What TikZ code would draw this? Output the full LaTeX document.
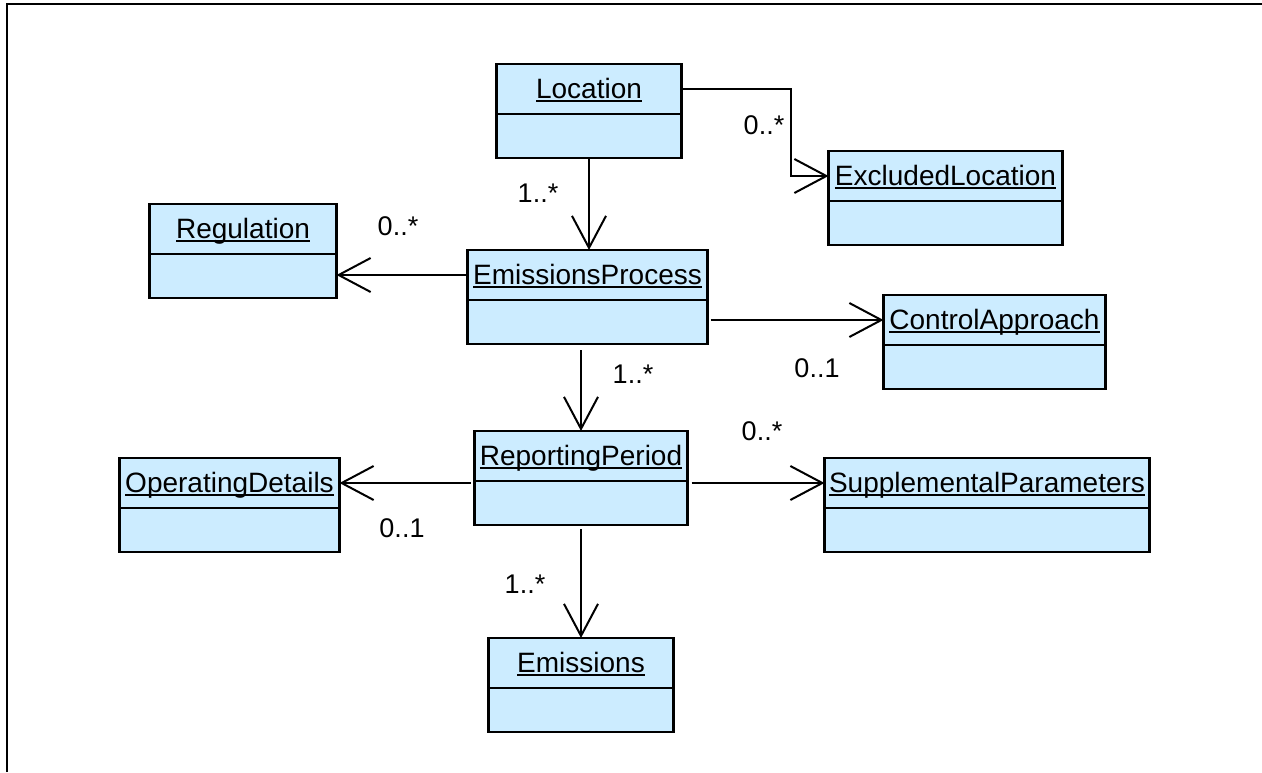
\documentclass[tikz,border=0pt]{standalone}
\usepackage{fontspec}
\setmainfont{Liberation Sans}
\usetikzlibrary{arrows.meta,positioning}

\definecolor{classfill}{RGB}{204,236,255}
\newlength{\unamewd}
\newcommand{\uname}[1]{\settowidth{\unamewd}{#1}\rlap{\rule[-3.5pt]{\unamewd}{2pt}}#1}

\tikzset{
  classhead/.style={draw,line width=2.6pt,fill=classfill,outer sep=0pt,inner sep=0pt,
    minimum height=50pt,text height=20pt,text depth=2pt,font=\fontsize{28}{34}\selectfont},
  classbody/.style={draw,line width=2.6pt,fill=classfill,outer sep=0pt,inner sep=0pt,minimum height=44pt},
  assoc/.style={line width=1.3pt,-{Straight Barb[length=32pt,width=34pt,line width=2pt]}},
  mult/.style={anchor=base,inner sep=0pt,font=\fontsize{27}{32}\selectfont},
}

\begin{document}
\begin{tikzpicture}[x=1pt,y=-1pt]
\useasboundingbox (0,0) rectangle (1262,772);
% Frame
\draw[line width=2pt] (7,772) -- (7,4) -- (1262,4);

% Classes: name/x/y/width/title
\foreach \n/\x/\y/\w/\t in {loc/589/89/185/Location,
    exc/945.5/176/234/ExcludedLocation,
    reg/243/229/187/Regulation,
    ep/587.5/275/240/EmissionsProcess,
    ca/994.5/320/222/ControlApproach,
    rp/581/456/213/ReportingPeriod,
    od/229.5/483/220/OperatingDetails,
    sp/987/483/325/SupplementalParameters,
    em/581/663/185/Emissions}{
  \node[classhead,minimum width=\w] (\n) at (\x,\y) {\uname{\t}};
  \node[classbody,minimum width=\w,below=0pt of \n] (\n-b) {};
}

% Associations
\coordinate (locbend) at (791,89);
\draw[assoc] (loc-b.south) -- (loc-b.south |- ep.north);
\draw[assoc] (loc.east) -- (locbend) |- (exc.west);
\draw[assoc] (ep.west) -- (ep.west -| reg-b.east);
\draw[assoc,shorten <=3pt] (ep-b.east |- ca.west) -- (ca.west);
\draw[assoc,shorten <=6pt] (rp.north |- ep-b.south) -- (rp.north);
\draw[assoc,shorten <=4pt] (rp.west |- od.east) -- (od.east);
\draw[assoc,shorten <=4pt] (rp.east |- sp.west) -- (sp.west);
\draw[assoc,shorten <=4pt] (rp-b.south) -- (em.north);

% Multiplicities
\node[mult] (m-loc-ep) at (538,202) {1..*};
\node[mult] (m-loc-exc) at (764,134) {0..*};
\node[mult] (m-ep-reg) at (398,235) {0..*};
\node[mult] (m-ep-ca) at (817,377) {0..1};
\node[mult] (m-ep-rp) at (633,383) {1..*};
\node[mult] (m-rp-sp) at (762,440) {0..*};
\node[mult] (m-rp-od) at (402,537) {0..1};
\node[mult] (m-rp-em) at (525,593) {1..*};
\end{tikzpicture}
\end{document}
